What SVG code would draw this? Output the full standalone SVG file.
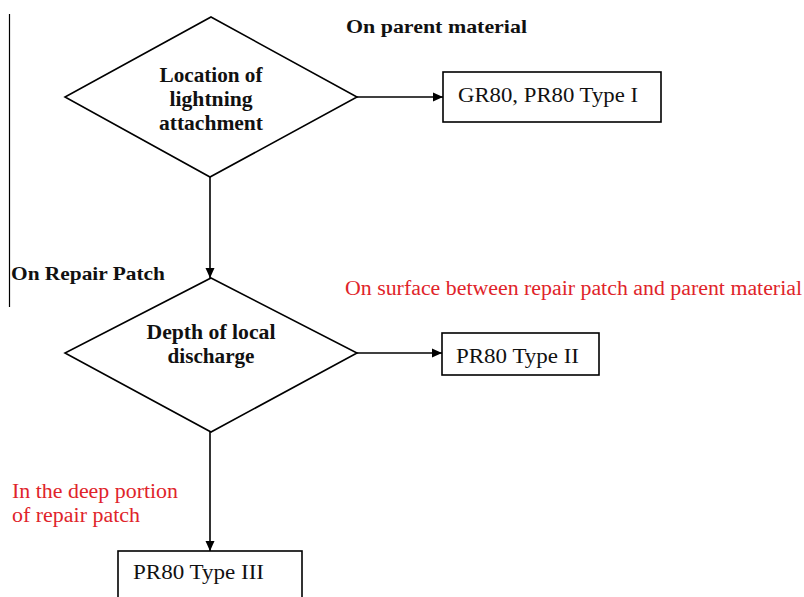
<svg xmlns="http://www.w3.org/2000/svg" width="804" height="597" viewBox="0 0 804 597">
<style>
.shape{fill:#fff;stroke:#000;stroke-width:1.6}
.conn{stroke:#000;stroke-width:1.6;fill:none}
.t{font-family:"Liberation Serif","DejaVu Serif",serif;fill:#111}
.n{font-size:20px;font-weight:bold;text-anchor:middle}
.bx{font-size:21px}
.lbl{font-size:19px;font-weight:bold}
.red{font-family:"Liberation Serif","DejaVu Serif",serif;fill:#e0242a;font-size:20px}
</style>
<defs>
<marker id="ah" viewBox="0 0 10 10" refX="10" refY="5" markerWidth="10" markerHeight="10" markerUnits="userSpaceOnUse" orient="auto">
<path d="M0,0.5 L10,5 L0,9.5 Z" fill="#000"/>
</marker>
</defs>
<rect width="804" height="597" fill="#fff"/>
<line x1="9.5" y1="14" x2="9.5" y2="307" stroke="#000" stroke-width="1.2"/>
<g id="connectors">
<line class="conn" x1="357" y1="97" x2="443" y2="97" marker-end="url(#ah)"/>
<line class="conn" x1="210" y1="177" x2="210" y2="278" marker-end="url(#ah)"/>
<line class="conn" x1="357" y1="353" x2="442" y2="353" marker-end="url(#ah)"/>
<line class="conn" x1="210" y1="432" x2="210" y2="551" marker-end="url(#ah)"/>
</g>
<g id="labels">
<text class="t lbl" x="346" y="33" textLength="181" lengthAdjust="spacingAndGlyphs">On parent material</text>
<text class="t lbl" x="11" y="280" textLength="154" lengthAdjust="spacingAndGlyphs">On Repair Patch</text>
<text class="red" x="345" y="295" textLength="457" lengthAdjust="spacingAndGlyphs">On surface between repair patch and parent material</text>
<text class="red" x="12" y="498" textLength="166" lengthAdjust="spacingAndGlyphs">In the deep portion</text>
<text class="red" x="12" y="522" textLength="128" lengthAdjust="spacingAndGlyphs">of repair patch</text>
</g>
<g id="d1">
<polygon class="shape" points="211,17 357,97 210,177 65,97"/>
<text class="t n" x="211" y="82" textLength="103" lengthAdjust="spacingAndGlyphs">Location of</text>
<text class="t n" x="211" y="106" textLength="83" lengthAdjust="spacingAndGlyphs">lightning</text>
<text class="t n" x="211" y="130" textLength="104" lengthAdjust="spacingAndGlyphs">attachment</text>
</g>
<g id="b1">
<rect class="shape" x="443" y="72" width="218" height="50"/>
<text class="t bx" x="458" y="102" textLength="180" lengthAdjust="spacingAndGlyphs">GR80, PR80 Type I</text>
</g>
<g id="d2">
<polygon class="shape" points="211,278 357,353 211,432 65,353"/>
<text class="t n" x="211" y="339" textLength="129" lengthAdjust="spacingAndGlyphs">Depth of local</text>
<text class="t n" x="211" y="363" textLength="87" lengthAdjust="spacingAndGlyphs">discharge</text>
</g>
<g id="b2">
<rect class="shape" x="442" y="333" width="157" height="42"/>
<text class="t bx" x="456" y="363" textLength="123" lengthAdjust="spacingAndGlyphs">PR80 Type II</text>
</g>
<g id="b3">
<rect class="shape" x="118" y="551" width="184" height="60"/>
<text class="t bx" x="133" y="579" textLength="131" lengthAdjust="spacingAndGlyphs">PR80 Type III</text>
</g>
</svg>
